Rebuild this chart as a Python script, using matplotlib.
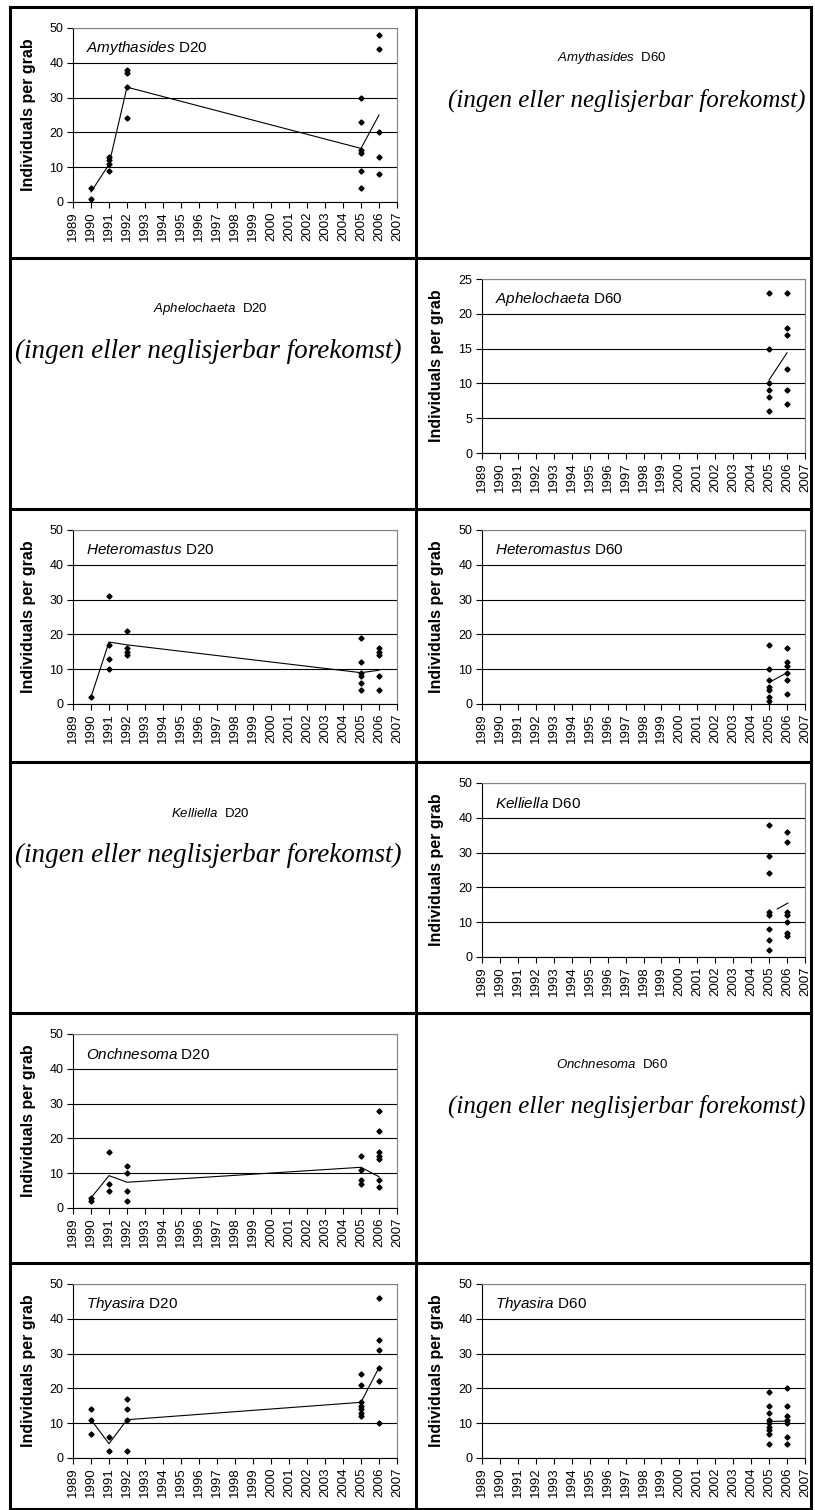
import matplotlib
matplotlib.use("Agg")
import matplotlib.pyplot as plt
from matplotlib.lines import Line2D

plt.rcParams["font.family"] = ["Liberation Sans", "DejaVu Sans"]
plt.rcParams["mathtext.fontset"] = "custom"
plt.rcParams["mathtext.rm"] = "Liberation Sans"
plt.rcParams["mathtext.it"] = "Liberation Sans:italic"

# ---- sampling years ----
years_d20 = [1990, 1991, 1992, 2005, 2006]
years_d60 = [2005, 2006]
year_ticks = list(range(1989, 2008))

# ---- individuals per grab (replicates per year) and yearly mean line ----
amythasides_d20 = [[4, 1], [13, 12, 11, 9], [38, 37, 33, 24],
                   [30, 23, 15, 14, 9, 4], [48, 44, 20, 13, 8]]
amythasides_d20_mean = [2.9, 10.8, 33.0, 15.4, 25.0]

aphelochaeta_d60 = [[23, 15, 10, 9, 8, 6], [23, 18, 17, 12, 9, 7]]
aphelochaeta_d60_mean = [10.5, 14.4]

heteromastus_d20 = [[2], [31, 17, 13, 10], [21, 16, 15, 14],
                    [19, 12, 9, 8, 6, 4], [16, 15, 14, 8, 4]]
heteromastus_d20_mean = [2.0, 17.8, 17.0, 9.0, 9.7]

heteromastus_d60 = [[17, 10, 7, 5, 4, 2, 1], [16, 12, 11, 9, 7, 3]]
heteromastus_d60_mean = [6.2, 9.0]

kelliella_d60 = [[38, 29, 24, 13, 12, 8, 5, 2], [36, 33, 13, 12, 10, 7, 6]]
kelliella_d60_line_x = [2005.45, 2006.05]
kelliella_d60_line_y = [13.8, 15.5]

onchnesoma_d20 = [[3, 2], [16, 7, 5], [12, 10, 5, 2],
                  [15, 11, 8, 7], [28, 22, 16, 15, 14, 8, 6]]
onchnesoma_d20_mean = [2.9, 9.3, 7.4, 11.7, 9.0]

thyasira_d20 = [[14, 11, 7], [6, 2], [17, 14, 11, 2],
                [24, 21, 16, 15, 14, 13, 12], [46, 34, 31, 26, 22, 10]]
thyasira_d20_mean = [11.0, 4.1, 11.0, 16.0, 26.0]

thyasira_d60 = [[19, 15, 13, 11, 10, 9, 8, 7, 4], [20, 15, 12, 11, 10, 6, 4]]
thyasira_d60_mean = [10.5, 10.6]

no_data_note = "(ingen eller neglisjerbar forekomst)"

W, H = 815, 1510
fig = plt.figure(figsize=(W / 100, H / 100), dpi=100)

col_x = [10, 416, 811]
row_y = [7, 258, 509, 762, 1013, 1263, 1509]
axes_x = [(73, 397), (482, 805)]
label_x = [36, 444]
title_cx = [210, 612]
note_cx = [208, 627]


def frect(x0, y0, x1, y1):
    return [x0 / W, 1 - y1 / H, (x1 - x0) / W, (y1 - y0) / H]


# table borders
for x in col_x:
    fig.add_artist(Line2D([x / W, x / W], [1 - row_y[0] / H, 1 - row_y[-1] / H],
                          color="black", lw=2.2, transform=fig.transFigure))
for y in row_y:
    fig.add_artist(Line2D([col_x[0] / W, col_x[-1] / W], [1 - y / H, 1 - y / H],
                          color="black", lw=2.2, transform=fig.transFigure))


def chart(row, col, genus, station, years, groups, ymax, ystep,
          mean=None, line_x=None, line_y=None):
    top = row_y[row]
    x0, x1 = axes_x[col]
    ax = fig.add_axes(frect(x0, top + 21, x1, top + 195))
    ax.set_xlim(1989, 2007)
    ax.set_ylim(0, ymax)
    for yr, vals in zip(years, groups):
        ax.plot([yr] * len(vals), vals, linestyle="none", marker="D",
                markersize=2.6, color="black", zorder=4)
    if mean is not None:
        ax.plot(years, mean, color="black", lw=0.8, zorder=3)
    if line_x is not None:
        ax.plot(line_x, line_y, color="black", lw=0.8, zorder=3)
    ax.set_xticks(year_ticks)
    ax.set_xticklabels([str(y) for y in year_ticks], rotation=90, fontsize=9.5)
    ax.set_yticks(range(0, ymax + 1, ystep))
    ax.tick_params(axis="y", labelsize=9, length=4, width=0.8, pad=3)
    ax.tick_params(axis="x", length=4, width=0.8, pad=3)
    ax.yaxis.grid(True, color="black", lw=0.8)
    ax.set_axisbelow(True)
    for s in ("left", "bottom"):
        ax.spines[s].set_color("black")
        ax.spines[s].set_linewidth(0.8)
    for s in ("top", "right"):
        ax.spines[s].set_color("#808080")
        ax.spines[s].set_linewidth(0.8)
    ax.set_ylabel("Individuals per grab", fontsize=11.5, fontweight="bold")
    ax.yaxis.set_label_coords((label_x[col] - x0) / (x1 - x0), 0.5)
    ax.text(0.04, 0.885, r"$\it{" + genus + "}$ " + station, transform=ax.transAxes,
            fontsize=11, va="center", ha="left")
    return ax


def placeholder(row, col, genus, station, note_size):
    top = row_y[row]
    fig.text(title_cx[col] / W, 1 - (top + 51) / H, r"$\it{" + genus + "}$  " + station,
             ha="center", va="center", fontsize=9.5)
    fig.text(note_cx[col] / W, 1 - (top + 93) / H, no_data_note, ha="center",
             va="center", fontsize=note_size, family="Liberation Serif",
             style="italic")


chart(0, 0, "Amythasides", "D20", years_d20, amythasides_d20, 50, 10,
      mean=amythasides_d20_mean)
placeholder(0, 1, "Amythasides", "D60", 18)

placeholder(1, 0, "Aphelochaeta", "D20", 19.5)
chart(1, 1, "Aphelochaeta", "D60", years_d60, aphelochaeta_d60, 25, 5,
      mean=aphelochaeta_d60_mean)

chart(2, 0, "Heteromastus", "D20", years_d20, heteromastus_d20, 50, 10,
      mean=heteromastus_d20_mean)
chart(2, 1, "Heteromastus", "D60", years_d60, heteromastus_d60, 50, 10,
      mean=heteromastus_d60_mean)

placeholder(3, 0, "Kelliella", "D20", 19.5)
chart(3, 1, "Kelliella", "D60", years_d60, kelliella_d60, 50, 10,
      line_x=kelliella_d60_line_x, line_y=kelliella_d60_line_y)

chart(4, 0, "Onchnesoma", "D20", years_d20, onchnesoma_d20, 50, 10,
      mean=onchnesoma_d20_mean)
placeholder(4, 1, "Onchnesoma", "D60", 18)

chart(5, 0, "Thyasira", "D20", years_d20, thyasira_d20, 50, 10,
      mean=thyasira_d20_mean)
chart(5, 1, "Thyasira", "D60", years_d60, thyasira_d60, 50, 10,
      mean=thyasira_d60_mean)

fig.savefig("out.png", dpi=100, facecolor="white")
